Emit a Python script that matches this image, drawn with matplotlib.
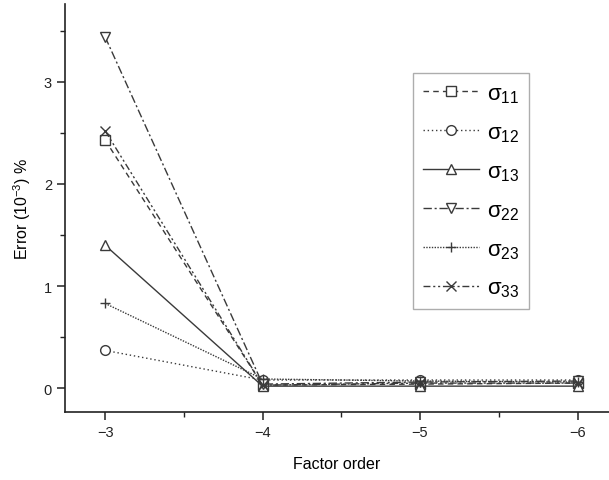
import numpy as np
import matplotlib
matplotlib.use("Agg")
import matplotlib.pyplot as plt
from matplotlib.ticker import MultipleLocator, FuncFormatter

plt.rcParams['font.family'] = ['Liberation Sans', 'DejaVu Sans']
plt.rcParams['mathtext.fontset'] = 'custom'
plt.rcParams['mathtext.rm'] = 'Liberation Sans'

# factor order on the x axis
orders = [-3, -4, -5, -6]

# error values (10^-3 %)
s11 = [2.43, 0.03, 0.04, 0.05]
s12 = [0.37, 0.08, 0.08, 0.08]
s13 = [1.40, 0.02, 0.02, 0.02]
s22 = [3.44, 0.04, 0.06, 0.07]
s23 = [0.83, 0.09, 0.07, 0.06]
s33 = [2.52, 0.03, 0.05, 0.05]

series = [
    (s11, 's', (0, (4, 3)), '11'),
    (s12, 'o', (0, (1, 2)), '12'),
    (s13, '^', '-', '13'),
    (s22, 'v', (0, (6, 2, 1.5, 2)), '22'),
    (s23, '+', (0, (1, 1)), '23'),
    (s33, 'x', (0, (5, 2, 1.5, 2, 1.5, 2)), '33'),
]

fig = plt.figure(figsize=(6.09, 4.81), dpi=100)
ax = fig.add_axes([0.107, 0.141, 0.893, 0.848])

col = '#3a3a3a'
for vals, mk, ls, sub in series:
    ax.plot(orders, vals, color=col, linestyle=ls, linewidth=1.0,
            marker=mk, markersize=7, markerfacecolor='white',
            markeredgecolor=col, markeredgewidth=1.0,
            label='σ$\\mathregular{_{' + sub + '}}$')

ax.set_xlim(-2.746, -6.2)
ax.set_ylim(-0.235, 3.76)
ax.xaxis.set_major_locator(MultipleLocator(1))
ax.xaxis.set_minor_locator(MultipleLocator(0.5))
ax.yaxis.set_major_locator(MultipleLocator(1))
ax.yaxis.set_minor_locator(MultipleLocator(0.5))
ax.xaxis.set_major_formatter(FuncFormatter(lambda v, p: '\u2212%d' % round(-v)))
ax.yaxis.set_major_formatter(FuncFormatter(lambda v, p: '%d' % round(v)))

for s in ['top', 'right']:
    ax.spines[s].set_visible(False)
for s in ['left', 'bottom']:
    ax.spines[s].set_linewidth(1.2)
    ax.spines[s].set_color('#222222')

ax.tick_params(which='major', direction='out', length=6, width=1.1,
               labelsize=10.5, colors='#222222')
ax.tick_params(which='minor', direction='out', length=3.5, width=1.0,
               colors='#222222')

ax.set_xlabel('Factor order', fontsize=11.5, labelpad=12)
ax.set_ylabel('Error (10$^{\\mathregular{-3}}$) %', fontsize=11.5, labelpad=8)

leg = ax.legend(loc='upper left', bbox_to_anchor=(0.64, 0.831),
                borderaxespad=0, fontsize=16, handlelength=2.5,
                handletextpad=0.35, labelspacing=0.78, frameon=True,
                fancybox=False, borderpad=0.45, numpoints=1)
leg.get_frame().set_edgecolor('#999999')
leg.get_frame().set_linewidth(1.0)

fig.savefig('out.png', dpi=100)
